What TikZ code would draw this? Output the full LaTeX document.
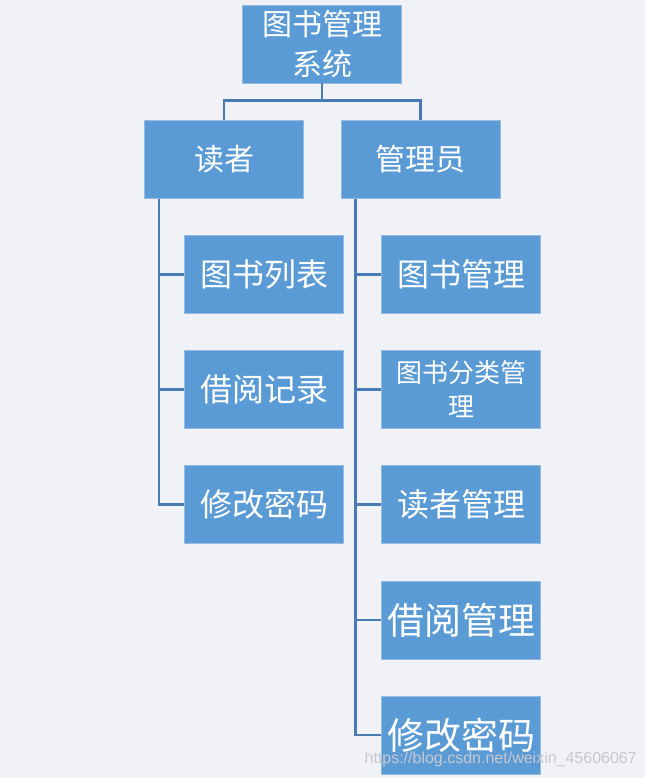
\documentclass[tikz,border=0pt]{standalone}
\usepackage{fontspec}
\setmainfont{Noto Sans CJK SC}
\newfontfamily\urlfont{Liberation Sans}
\definecolor{paper}{RGB}{240,242,247}
\definecolor{boxblue}{RGB}{91,155,213}
\definecolor{boxedge}{RGB}{150,188,228}
\definecolor{linkblue}{RGB}{72,122,180}
\definecolor{markgray}{RGB}{200,200,206}

\tikzset{
  box/.style={fill=boxblue,draw=boxedge,line width=0.8pt,minimum width=159pt,minimum height=78pt,
    inner sep=0pt,align=center,text=white,font=\fontsize{32}{40}\selectfont},
  link/.style={draw=linkblue,line width=2.5pt},
}

\begin{document}
\begin{tikzpicture}[x=1pt,y=-1pt]

% page
\fill [paper] (0,0) rectangle (645,778);
\useasboundingbox (0,0) rectangle (645,778);

% top
\node [box,font=\fontsize{30}{40}\selectfont] (root) at (322,44) {图书管理\\系统};

% roles
\node [box,font=\fontsize{30}{36}\selectfont] (reader) at (224,159.5) {读者};
\node [box,font=\fontsize{30}{36}\selectfont] (admin) at (420.5,159.5) {管理员};

% reader side
\node [box] (rlist) at (264,274.5) {图书列表};
\node [box] (rlog) at (264,389.5) {借阅记录};
\node [box] (rpwd) at (264,504.5) {修改密码};

% admin side
\node [box] (abook) at (461,274.5) {图书管理};
\node [box,font=\fontsize{26}{34}\selectfont] (acat) at (461,389.5) {图书分类管\\理};
\node [box] (areader) at (461,504.5) {读者管理};
\node [box,font=\fontsize{37}{40}\selectfont] (alend) at (461,620) {借阅管理};
\node [box,font=\fontsize{37}{40}\selectfont] (apwd) at (461,735) {修改密码};

% links
\draw [link] (root.south) -- ++(0,17) -| (reader.north);
\draw [link] (root.south) -- ++(0,17) -| (admin.north);
\draw [link] ([xshift=15pt]reader.south west) |- (rlist.west);
\draw [link] ([xshift=15pt]reader.south west) |- (rlog.west);
\draw [link] ([xshift=15pt]reader.south west) |- (rpwd.west);
\draw [link] ([xshift=15pt]admin.south west) |- (abook.west);
\draw [link] ([xshift=15pt]admin.south west) |- (acat.west);
\draw [link] ([xshift=15pt]admin.south west) |- (areader.west);
\draw [link] ([xshift=15pt]admin.south west) |- (alend.west);
\draw [link] ([xshift=15pt]admin.south west) |- (apwd.west);

% watermark
\node [anchor=east,inner sep=0pt,text=markgray,font=\urlfont\fontsize{16}{18}\selectfont] (mark) at (637,759) {https://blog.csdn.net/weixin\_45606067};

\end{tikzpicture}
\end{document}
